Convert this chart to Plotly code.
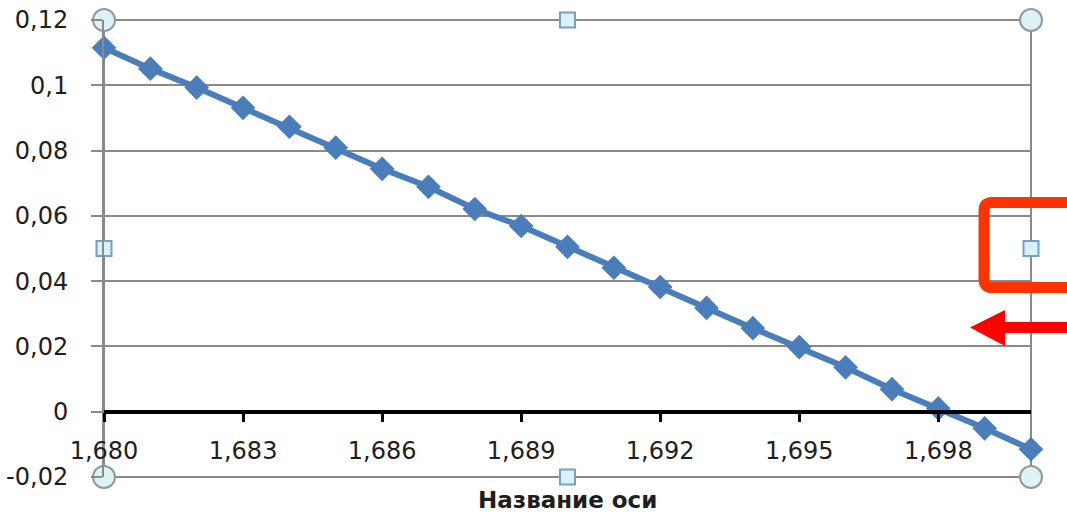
import plotly.graph_objects as go

# Series: value of the function against the argument
x_values = [1.680, 1.681, 1.682, 1.683, 1.684, 1.685, 1.686, 1.687, 1.688, 1.689, 1.690,
            1.691, 1.692, 1.693, 1.694, 1.695, 1.696, 1.697, 1.698, 1.699, 1.700]
y_values = [0.1115, 0.1051, 0.0993, 0.0931, 0.0873, 0.0809, 0.0744, 0.0689, 0.0621, 0.0569, 0.0505,
            0.0441, 0.0382, 0.0318, 0.0256, 0.0198, 0.0136, 0.0069, 0.0010, -0.0051, -0.0115]

x_tick_vals = [1.680, 1.683, 1.686, 1.689, 1.692, 1.695, 1.698]
x_tick_text = ["1,680", "1,683", "1,686", "1,689", "1,692", "1,695", "1,698"]
y_tick_vals = [-0.02, 0.0, 0.02, 0.04, 0.06, 0.08, 0.10, 0.12]
y_tick_text = ["-0,02", "0", "0,02", "0,04", "0,06", "0,08", "0,1", "0,12"]

axis_title = "Название оси"

X_RANGE = [1.680, 1.700]
Y_RANGE = [-0.02, 0.12]

W, H = 1067, 515
ML, MR, MT, MB = 104, 36, 20, 38
PW, PH = W - ML - MR, H - MT - MB

FONT = "DejaVu Sans"
TEXT = "#1e1e1e"
GRID = "#8a8a8a"
BLUE = "#4a7ebb"


def px(xp, yp):
    """Pixel position on the page -> paper coordinates."""
    return (xp - ML) / PW, (H - MB - yp) / PH


def path(points, close=False):
    parts = []
    for cmd, pts in points:
        coords = " ".join("%.5f,%.5f" % px(*p) for p in pts)
        parts.append(cmd + " " + coords)
    s = " ".join(parts)
    return s + (" Z" if close else "")


fig = go.Figure()

fig.add_trace(go.Scatter(
    x=x_values, y=y_values, mode="lines+markers",
    line=dict(color=BLUE, width=6),
    marker=dict(symbol="diamond", size=19, color=BLUE),
    cliponaxis=False, showlegend=False, hoverinfo="skip",
))

# Selection handles of the plot area
x_mid = (X_RANGE[0] + X_RANGE[1]) / 2
y_mid = (Y_RANGE[0] + Y_RANGE[1]) / 2
fig.add_trace(go.Scatter(
    x=[X_RANGE[0], X_RANGE[1], X_RANGE[0], X_RANGE[1]],
    y=[Y_RANGE[1], Y_RANGE[1], Y_RANGE[0], Y_RANGE[0]],
    mode="markers", cliponaxis=False, showlegend=False, hoverinfo="skip",
    marker=dict(symbol="circle", size=22, color="#dcf2f5",
                line=dict(color="#8e9a9c", width=2)),
))
fig.add_trace(go.Scatter(
    x=[x_mid, x_mid, X_RANGE[0], X_RANGE[1]],
    y=[Y_RANGE[1], Y_RANGE[0], y_mid, y_mid],
    mode="markers", cliponaxis=False, showlegend=False, hoverinfo="skip",
    marker=dict(symbol="square", size=15, color="#d8f3f8",
                line=dict(color="#7b9dc2", width=2)),
))

shapes = [
    # plot area frame
    dict(type="rect", xref="paper", yref="paper", x0=0, x1=1, y0=0, y1=1,
         line=dict(color=GRID, width=2), layer="below"),
    # red bracket on the right
    dict(type="path", xref="paper", yref="paper",
         path=path([("M", [(1085, 202.5)]), ("L", [(992, 202.5)]),
                    ("Q", [(984, 202.5), (984, 210.5)]), ("L", [(984, 279.5)]),
                    ("Q", [(984, 287.5), (992, 287.5)]), ("L", [(1085, 287.5)])]),
         line=dict(color="#ff3300", width=11)),
    # red arrow: shaft and head
    dict(type="path", xref="paper", yref="paper",
         path=path([("M", [(1000, 322)]), ("L", [(1085, 322)]), ("L", [(1085, 333)]),
                    ("L", [(1000, 333)])], close=True),
         fillcolor="#ff0000", line=dict(width=0)),
    dict(type="path", xref="paper", yref="paper",
         path=path([("M", [(970, 327.5)]), ("L", [(1005, 310)]), ("L", [(1005, 346)])], close=True),
         fillcolor="#ff0000", line=dict(width=0)),
]

fig.update_layout(
    width=W, height=H,
    margin=dict(l=ML, r=MR, t=MT, b=MB, pad=0, autoexpand=False),
    paper_bgcolor="white", plot_bgcolor="white",
    font=dict(family=FONT, size=24, color=TEXT),
    separators=", ",
    xaxis=dict(
        range=X_RANGE, anchor="free", automargin=False,
        position=(0 - Y_RANGE[0]) / (Y_RANGE[1] - Y_RANGE[0]),
        tickvals=x_tick_vals, ticktext=x_tick_text,
        showgrid=False, zeroline=False,
        showline=True, linecolor="black", linewidth=3.5,
        ticks="outside", ticklen=9, tickwidth=3, tickcolor="black",
        ticklabelstandoff=8,
        tickfont=dict(family=FONT, size=24, color=TEXT),
    ),
    yaxis=dict(
        range=Y_RANGE, tickvals=y_tick_vals, ticktext=y_tick_text, automargin=False,
        showgrid=True, gridcolor=GRID, gridwidth=2, zeroline=False,
        showline=True, linecolor=GRID, linewidth=2,
        ticks="outside", ticklen=11, tickwidth=2, tickcolor=GRID,
        ticklabelstandoff=18,
        tickfont=dict(family=FONT, size=24, color=TEXT),
    ),
    shapes=shapes,
    annotations=[dict(
        text="<b>" + axis_title + "</b>", xref="paper", yref="paper",
        x=0.5, y=px(0, 500)[1], xanchor="center", yanchor="middle",
        showarrow=False, font=dict(family=FONT, size=23, color=TEXT),
    )],
)

fig.write_html("out.html")
